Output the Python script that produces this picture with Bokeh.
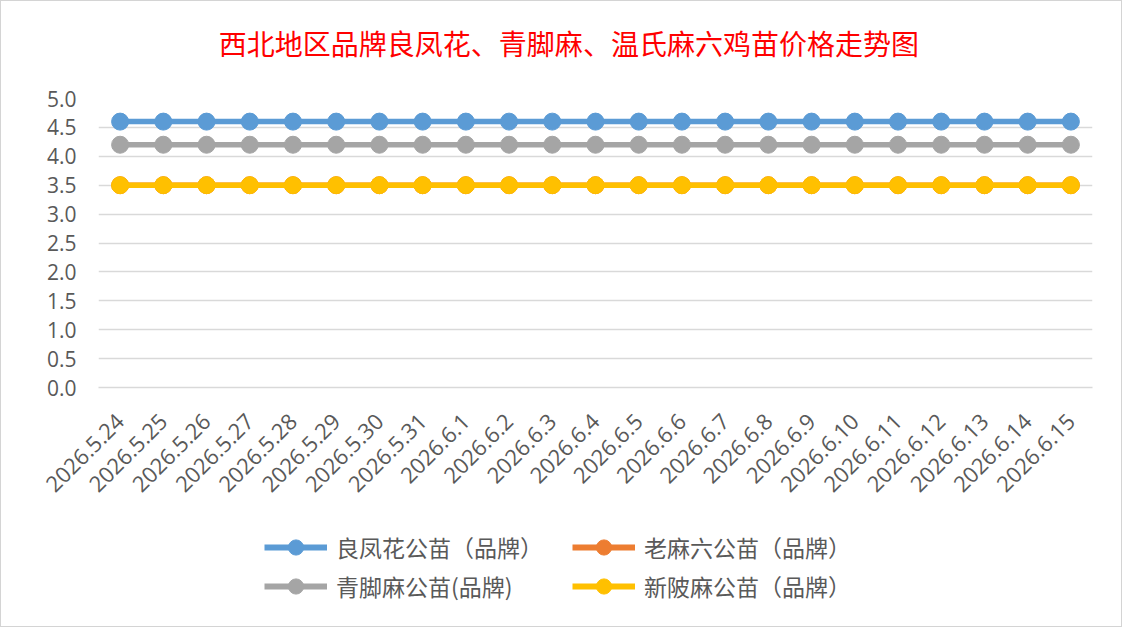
from bokeh.plotting import figure
from bokeh.models import (FactorRange, Range1d, FixedTicker, Legend, LegendItem, Label,
                          NumeralTickFormatter)
from bokeh.layouts import column
from bokeh.embed import file_html
from bokeh.resources import INLINE
from math import pi

# ---- data ----
dates = ["2026.5.24", "2026.5.25", "2026.5.26", "2026.5.27", "2026.5.28", "2026.5.29",
         "2026.5.30", "2026.5.31", "2026.6.1", "2026.6.2", "2026.6.3", "2026.6.4",
         "2026.6.5", "2026.6.6", "2026.6.7", "2026.6.8", "2026.6.9", "2026.6.10",
         "2026.6.11", "2026.6.12", "2026.6.13", "2026.6.14", "2026.6.15"]
liangfenghua = [4.6] * 23
laomaliu = [3.5] * 23
qingjiaoma = [4.2] * 23
xinpima = [3.5] * 23
series_names = ["良凤花公苗（品牌）", "老麻六公苗（品牌）", "青脚麻公苗(品牌)", "新陂麻公苗（品牌）"]
series_values = [liangfenghua, laomaliu, qingjiaoma, xinpima]
series_colors = ["#5B9BD5", "#ED7D31", "#A5A5A5", "#FFC000"]
y_ticks = [0.0, 0.5, 1.0, 1.5, 2.0, 2.5, 3.0, 3.5, 4.0, 4.5, 5.0]
title_text = "西北地区品牌良凤花、青脚麻、温氏麻六鸡苗价格走势图"

CJK = "Noto Sans CJK SC"
W = 1120

# ---- title panel ----
tf = figure(width=W, height=80, output_backend="svg", toolbar_location=None,
            x_range=Range1d(0, W), y_range=Range1d(0, 80),
            x_axis_type=None, y_axis_type=None,
            min_border_left=0, min_border_right=0, min_border_top=0, min_border_bottom=0)
tf.outline_line_color = None
tf.xgrid.visible = False
tf.ygrid.visible = False
tf.add_layout(Label(x=530, y=39, text=title_text, text_align="center", text_baseline="middle",
                    text_font=CJK, text_font_size="28px", text_color="#FF0000"))

# ---- main chart ----
p = figure(width=W, height=440, output_backend="svg", toolbar_location=None,
           x_range=FactorRange(factors=dates, range_padding=0),
           y_range=Range1d(0, 5.0),
           min_border_left=97, min_border_right=29, min_border_top=17, min_border_bottom=134)
p.outline_line_color = None
p.background_fill_color = "white"
p.border_fill_color = "white"

p.xgrid.grid_line_color = None
p.ygrid.grid_line_color = "#d9d9d9"
p.ygrid.grid_line_width = 1.3
p.yaxis.ticker = FixedTicker(ticks=y_ticks)
p.ygrid.ticker = FixedTicker(ticks=y_ticks)

p.yaxis.axis_line_color = None
p.yaxis.major_tick_line_color = None
p.yaxis.minor_tick_line_color = None
p.yaxis.formatter = NumeralTickFormatter(format="0.0")
p.yaxis.major_label_text_font = "Open Sans"
p.yaxis.major_label_text_font_size = "21px"
p.yaxis.major_label_text_color = "#595959"
p.yaxis.major_label_standoff = 16

p.xaxis.axis_line_color = "#d9d9d9"
p.xaxis.axis_line_width = 1.5
p.xaxis.major_tick_line_color = None
p.xaxis.minor_tick_line_color = None
p.xaxis.major_label_orientation = pi / 4
p.xaxis.major_label_text_font = "Open Sans"
p.xaxis.major_label_text_font_size = "22px"
p.xaxis.major_label_text_color = "#595959"
p.xaxis.major_label_standoff = 24

for name, vals, col in zip(series_names, series_values, series_colors):
    p.line(dates, vals, line_color=col, line_width=5.5)
    p.scatter(dates, vals, size=17, fill_color=col, line_color=col)

# ---- legend panel (series drawn out of view so only legend glyphs show) ----
lg = figure(width=W, height=105, output_backend="svg", toolbar_location=None,
            x_range=FactorRange(factors=dates, range_padding=0), y_range=Range1d(100, 101),
            x_axis_type=None, y_axis_type=None,
            min_border_left=0, min_border_right=0, min_border_top=0, min_border_bottom=0)
lg.outline_line_color = None
lg.xgrid.visible = False
lg.ygrid.visible = False

items = []
for name, vals, col in zip(series_names, series_values, series_colors):
    r1 = lg.line(dates, vals, line_color=col, line_width=6)
    r2 = lg.scatter(dates, vals, size=17, fill_color=col, line_color=col)
    items.append(LegendItem(label=name, renderers=[r1, r2]))

legend = Legend(items=items, orientation="horizontal", ncols=2,
                location=(166, 21),
                label_text_font=CJK, label_text_font_size="23px",
                label_text_color="#595959",
                glyph_width=63, glyph_height=38, label_standoff=9,
                label_width=236, label_height=39, spacing=0, padding=0, margin=0,
                border_line_color=None, background_fill_alpha=0)
lg.add_layout(legend, "center")

layout = column(tf, p, lg, spacing=0, styles={"border": "1px solid #d4d4d4"})

open("out.html", "w").write(file_html(layout, INLINE))
